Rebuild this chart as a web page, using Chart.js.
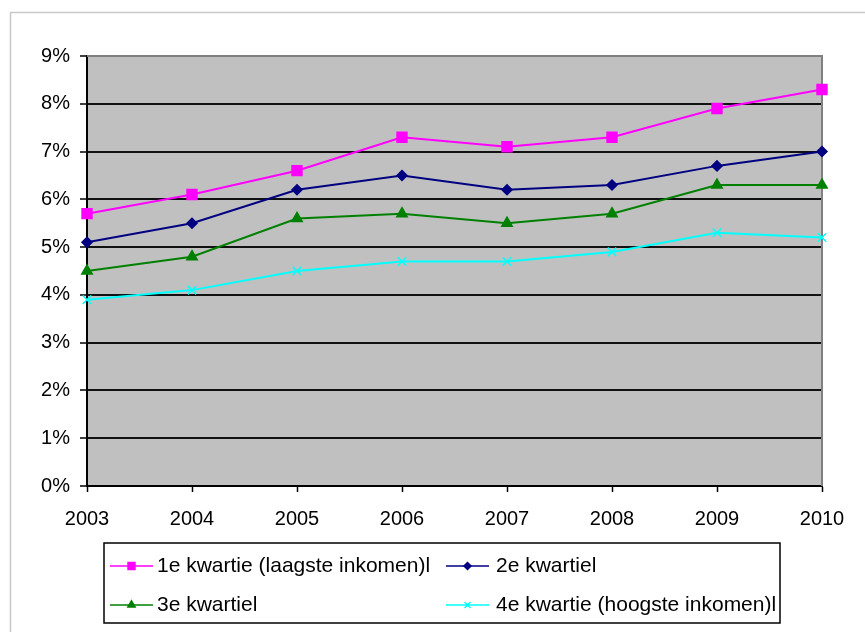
<!DOCTYPE html>
<html>
<head>
<meta charset="utf-8">
<script src="https://cdn.jsdelivr.net/npm/chart.js@4/dist/chart.umd.min.js"></script>
<style>
  html, body { margin: 0; padding: 0; background: #fff; }
  canvas { display: block; }
</style>
</head>
<body>
<canvas id="c" width="865" height="632"></canvas>
<script>
// Years on the horizontal axis
const years = ['2003', '2004', '2005', '2006', '2007', '2008', '2009', '2010'];

// Share per income quartile, in percent
const kwartiel1 = [5.7, 6.1, 6.6, 7.3, 7.1, 7.3, 7.9, 8.3];
const kwartiel2 = [5.1, 5.5, 6.2, 6.5, 6.2, 6.3, 6.7, 7.0];
const kwartiel3 = [4.5, 4.8, 5.6, 5.7, 5.5, 5.7, 6.3, 6.3];
const kwartiel4 = [3.9, 4.1, 4.5, 4.7, 4.7, 4.9, 5.3, 5.2];

const seriesLabels = [
  '1e kwartie (laagste inkomen)l',
  '2e kwartiel',
  '3e kwartiel',
  '4e kwartie (hoogste inkomen)l'
];

// Vertical axis range and step (percent)
const yMin = 0;
const yMax = 9;
const yStep = 1;

const FONT = "'Liberation Sans', Arial, sans-serif";

// Grey plot background, outer frame and grey top/right plot border
const framePlugin = {
  id: 'frame',
  beforeDraw(chart) {
    const ctx = chart.ctx;
    const a = chart.chartArea;
    ctx.save();
    ctx.fillStyle = '#ffffff';
    ctx.fillRect(0, 0, chart.width, chart.height);
    ctx.strokeStyle = '#c8c8c8';
    ctx.lineWidth = 1.5;
    ctx.strokeRect(10.5, 12.5, chart.width + 20, chart.height + 20);
    ctx.fillStyle = '#c0c0c0';
    ctx.fillRect(a.left, a.top, a.right - a.left, a.bottom - a.top);
    ctx.restore();
  },
  beforeDatasetsDraw(chart) {
    const ctx = chart.ctx;
    const a = chart.chartArea;
    ctx.save();
    ctx.strokeStyle = '#808080';
    ctx.lineWidth = 2;
    ctx.beginPath();
    ctx.moveTo(a.left, a.top);
    ctx.lineTo(a.right, a.top);
    ctx.lineTo(a.right, a.bottom);
    ctx.stroke();
    ctx.restore();
  }
};

// Boxed two-column legend underneath the plot
const boxLegendPlugin = {
  id: 'boxLegend',
  afterDraw(chart) {
    const ctx = chart.ctx;
    const box = { x: 104, y: 543, w: 676, h: 80 };
    const rows = [566, 605];
    const cols = [{ line: 110, text: 157 }, { line: 446, text: 496 }];
    const lineLen = 43;
    ctx.save();
    ctx.strokeStyle = '#000';
    ctx.lineWidth = 1.5;
    ctx.strokeRect(box.x, box.y, box.w, box.h);
    ctx.font = "21px " + FONT;
    ctx.textBaseline = 'middle';
    ctx.textAlign = 'left';
    chart.data.datasets.forEach((ds, i) => {
      const col = cols[i % 2];
      const y = rows[Math.floor(i / 2)];
      ctx.strokeStyle = ds.borderColor;
      ctx.fillStyle = ds.pointBackgroundColor;
      ctx.lineWidth = 1.5;
      ctx.beginPath();
      ctx.moveTo(col.line, y);
      ctx.lineTo(col.line + lineLen, y);
      ctx.stroke();
      Chart.helpers.drawPoint(ctx, {
        pointStyle: ds.pointStyle,
        radius: ds.pointRadius * 0.7,
        rotation: 0,
        borderWidth: ds.pointBorderWidth
      }, col.line + lineLen / 2, y);
      ctx.fillStyle = '#000';
      ctx.fillText(ds.label, col.text, y);
    });
    ctx.restore();
  }
};

const makeSet = (label, data, color, style, radius) => ({
  label: label,
  data: data,
  borderColor: color,
  backgroundColor: color,
  pointBackgroundColor: color,
  pointBorderColor: color,
  pointStyle: style,
  pointRadius: radius,
  pointHoverRadius: radius,
  pointBorderWidth: 1.5,
  borderWidth: 2,
  tension: 0,
  fill: false
});

new Chart(document.getElementById('c'), {
  type: 'line',
  data: {
    labels: years,
    datasets: [
      makeSet(seriesLabels[0], kwartiel1, '#ff00ff', 'rect', 7),
      makeSet(seriesLabels[1], kwartiel2, '#000080', 'rectRot', 5),
      makeSet(seriesLabels[2], kwartiel3, '#008000', 'triangle', 6),
      makeSet(seriesLabels[3], kwartiel4, '#00ffff', 'crossRot', 6)
    ]
  },
  options: {
    responsive: false,
    animation: false,
    events: [],
    layout: { padding: { top: 56, right: 43, left: 0, bottom: 0 } },
    plugins: {
      legend: { display: false },
      tooltip: { enabled: false }
    },
    scales: {
      x: {
        type: 'category',
        offset: false,
        afterFit(scale) { scale.height = 146; },
        grid: {
          drawOnChartArea: false,
          drawTicks: true,
          tickLength: 6,
          tickColor: '#000',
          tickWidth: 1.5
        },
        border: { color: '#000', width: 2 },
        ticks: {
          color: '#000',
          font: { family: FONT, size: 20 },
          padding: 15,
          maxRotation: 0,
          autoSkip: false
        }
      },
      y: {
        min: yMin,
        max: yMax,
        afterFit(scale) { scale.width = 87; },
        grid: {
          color: ctx => (ctx.tick && ctx.tick.value === yMax) ? 'rgba(0,0,0,0)' : '#111',
          lineWidth: 2,
          drawTicks: true,
          tickLength: 7,
          tickColor: '#000',
          tickWidth: 1.5
        },
        border: { color: '#000', width: 2 },
        ticks: {
          stepSize: yStep,
          color: '#000',
          font: { family: FONT, size: 20 },
          padding: 10,
          callback: v => v + '%'
        }
      }
    }
  },
  plugins: [framePlugin, boxLegendPlugin]
});
</script>
</body>
</html>
